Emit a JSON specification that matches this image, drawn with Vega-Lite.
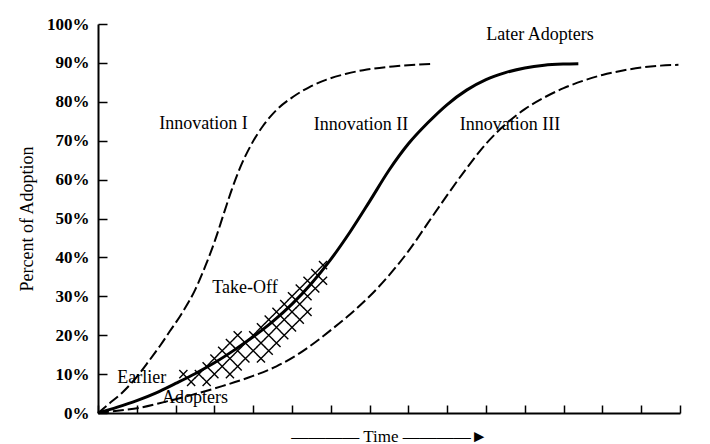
{
  "$schema": "https://vega.github.io/schema/vega-lite/v6.json",
  "width": 582,
  "height": 389,
  "autosize": "none",
  "padding": {"left": 98, "top": 24, "right": 30, "bottom": 31},
  "background": "white",
  "config": {
    "view": {"stroke": null},
    "font": "Liberation Serif",
    "axis": {"grid": false, "domainColor": "black", "domainWidth": 2, "tickColor": "black", "tickWidth": 1.5, "labelColor": "black", "titleColor": "black", "labelFont": "Liberation Serif", "titleFont": "Liberation Serif"}
  },
  "datasets": {
    "curves": [
      {"series": "I", "t": 0, "pct": 0}, {"series": "I", "t": 0.3, "pct": 2.5}, {"series": "I", "t": 0.61, "pct": 5.1}, {"series": "I", "t": 1.0, "pct": 9.3}, {"series": "I", "t": 1.3, "pct": 13.2}, {"series": "I", "t": 1.6, "pct": 17.3}, {"series": "I", "t": 1.85, "pct": 21}, {"series": "I", "t": 2.16, "pct": 25.6}, {"series": "I", "t": 2.5, "pct": 31.6}, {"series": "I", "t": 2.76, "pct": 37.6}, {"series": "I", "t": 3.02, "pct": 44.5}, {"series": "I", "t": 3.25, "pct": 51.5}, {"series": "I", "t": 3.45, "pct": 57.5}, {"series": "I", "t": 3.66, "pct": 63}, {"series": "I", "t": 3.95, "pct": 69}, {"series": "I", "t": 4.26, "pct": 73.9}, {"series": "I", "t": 4.6, "pct": 77.9}, {"series": "I", "t": 5.03, "pct": 81.3}, {"series": "I", "t": 5.45, "pct": 83.8}, {"series": "I", "t": 5.89, "pct": 85.7}, {"series": "I", "t": 6.4, "pct": 87.2}, {"series": "I", "t": 6.93, "pct": 88.3}, {"series": "I", "t": 7.6, "pct": 89.1}, {"series": "I", "t": 8.56, "pct": 89.7},
      {"series": "II", "t": 0, "pct": 0}, {"series": "II", "t": 0.5, "pct": 1.5}, {"series": "II", "t": 1.0, "pct": 3.2}, {"series": "II", "t": 1.5, "pct": 5.2}, {"series": "II", "t": 2.0, "pct": 7.6}, {"series": "II", "t": 2.5, "pct": 10.1}, {"series": "II", "t": 3.0, "pct": 12.9}, {"series": "II", "t": 3.5, "pct": 16.1}, {"series": "II", "t": 4.0, "pct": 19.6}, {"series": "II", "t": 4.5, "pct": 23.5}, {"series": "II", "t": 5.0, "pct": 28.0}, {"series": "II", "t": 5.5, "pct": 33.3}, {"series": "II", "t": 6.0, "pct": 39.5}, {"series": "II", "t": 6.5, "pct": 46.6}, {"series": "II", "t": 7.0, "pct": 54.4}, {"series": "II", "t": 7.5, "pct": 62.4}, {"series": "II", "t": 8.0, "pct": 69.2}, {"series": "II", "t": 8.5, "pct": 74.6}, {"series": "II", "t": 9.0, "pct": 79.3}, {"series": "II", "t": 9.5, "pct": 83}, {"series": "II", "t": 10.0, "pct": 85.7}, {"series": "II", "t": 10.5, "pct": 87.5}, {"series": "II", "t": 11.0, "pct": 88.7}, {"series": "II", "t": 11.5, "pct": 89.4}, {"series": "II", "t": 12.0, "pct": 89.7}, {"series": "II", "t": 12.38, "pct": 89.8},
      {"series": "III", "t": 0, "pct": 0}, {"series": "III", "t": 0.5, "pct": 0.6}, {"series": "III", "t": 1.1, "pct": 1.4}, {"series": "III", "t": 1.7, "pct": 2.8}, {"series": "III", "t": 2.4, "pct": 4.6}, {"series": "III", "t": 3.2, "pct": 6.9}, {"series": "III", "t": 3.9, "pct": 9.2}, {"series": "III", "t": 4.6, "pct": 12}, {"series": "III", "t": 5.2, "pct": 15.4}, {"series": "III", "t": 5.6, "pct": 18.2}, {"series": "III", "t": 6.0, "pct": 21.3}, {"series": "III", "t": 6.5, "pct": 25.4}, {"series": "III", "t": 7.0, "pct": 30.0}, {"series": "III", "t": 7.5, "pct": 35.4}, {"series": "III", "t": 8.0, "pct": 41.6}, {"series": "III", "t": 8.5, "pct": 48.8}, {"series": "III", "t": 9.0, "pct": 56.0}, {"series": "III", "t": 9.5, "pct": 62.9}, {"series": "III", "t": 10.0, "pct": 69.2}, {"series": "III", "t": 10.5, "pct": 74.2}, {"series": "III", "t": 11.0, "pct": 78.1}, {"series": "III", "t": 11.5, "pct": 81.1}, {"series": "III", "t": 12.0, "pct": 83.5}, {"series": "III", "t": 12.5, "pct": 85.4}, {"series": "III", "t": 13.0, "pct": 86.9}, {"series": "III", "t": 13.5, "pct": 88.0}, {"series": "III", "t": 14.0, "pct": 88.8}, {"series": "III", "t": 14.5, "pct": 89.3}, {"series": "III", "t": 14.96, "pct": 89.5}
    ],
    "hatch": [
      {"t": 2.2, "pct": 10}, {"t": 2.4, "pct": 8}, {"t": 2.6, "pct": 10}, {"t": 2.8, "pct": 8}, {"t": 2.8, "pct": 12},
      {"t": 3.0, "pct": 10}, {"t": 3.0, "pct": 14}, {"t": 3.2, "pct": 12}, {"t": 3.2, "pct": 16},
      {"t": 3.4, "pct": 10}, {"t": 3.4, "pct": 14}, {"t": 3.4, "pct": 18}, {"t": 3.6, "pct": 12}, {"t": 3.6, "pct": 16}, {"t": 3.6, "pct": 20},
      {"t": 3.8, "pct": 14}, {"t": 3.8, "pct": 18}, {"t": 4.0, "pct": 16}, {"t": 4.0, "pct": 20},
      {"t": 4.2, "pct": 14}, {"t": 4.2, "pct": 18}, {"t": 4.2, "pct": 22}, {"t": 4.4, "pct": 16}, {"t": 4.4, "pct": 20}, {"t": 4.4, "pct": 24},
      {"t": 4.6, "pct": 18}, {"t": 4.6, "pct": 22}, {"t": 4.6, "pct": 26}, {"t": 4.8, "pct": 20}, {"t": 4.8, "pct": 24}, {"t": 4.8, "pct": 28},
      {"t": 5.0, "pct": 22}, {"t": 5.0, "pct": 26}, {"t": 5.0, "pct": 30}, {"t": 5.2, "pct": 24}, {"t": 5.2, "pct": 28}, {"t": 5.2, "pct": 32},
      {"t": 5.4, "pct": 26}, {"t": 5.4, "pct": 30}, {"t": 5.4, "pct": 34}, {"t": 5.6, "pct": 32}, {"t": 5.6, "pct": 36},
      {"t": 5.8, "pct": 34}, {"t": 5.8, "pct": 38}
    ],
    "labels": [
      {"label": "Innovation I", "t": 2.72, "pct": 74.3},
      {"label": "Innovation II", "t": 6.78, "pct": 74},
      {"label": "Innovation III", "t": 10.62, "pct": 74},
      {"label": "Later Adopters", "t": 11.39, "pct": 97.2},
      {"label": "Take-Off", "t": 3.79, "pct": 32.1},
      {"label": "Earlier", "t": 1.13, "pct": 9.0},
      {"label": "Adopters", "t": 2.5, "pct": 3.9}
    ]
  },
  "encoding": {
    "x": {"field": "t", "type": "quantitative", "scale": {"domain": [0, 15], "nice": false, "zero": false},
      "axis": {"values": [0,1,2,3,4,5,6,7,8,9,10,11,12,13,14,15], "labels": false, "tickSize": -8, "title": "————  Time  ————►", "titleFontSize": 17, "titleFontWeight": "normal", "titleY": 23, "titleBaseline": "middle"}},
    "y": {"field": "pct", "type": "quantitative", "scale": {"domain": [0, 100], "nice": false, "zero": true},
      "axis": {"values": [0,10,20,30,40,50,60,70,80,90,100], "labelExpr": "datum.value + '%'", "tickSize": -9, "labelPadding": 18, "labelFontSize": 17, "labelFontWeight": "bold", "title": "Percent of Adoption", "titleFontSize": 18, "titleFontWeight": "normal", "titleX": -71, "titleBaseline": "middle"}}
  },
  "layer": [
    {
      "data": {"name": "hatch"},
      "mark": {"type": "point", "shape": "M-1,-1L1,1M-1,1L1,-1", "size": 66, "filled": false, "stroke": "black", "strokeWidth": 1.4, "opacity": 1}
    },
    {
      "data": {"name": "curves"},
      "transform": [{"filter": "datum.series === 'I'"}],
      "mark": {"type": "line", "interpolate": "monotone", "color": "black", "strokeWidth": 2, "strokeDash": [11, 4], "strokeCap": "butt"}
    },
    {
      "data": {"name": "curves"},
      "transform": [{"filter": "datum.series === 'II'"}],
      "mark": {"type": "line", "interpolate": "monotone", "color": "black", "strokeWidth": 3}
    },
    {
      "data": {"name": "curves"},
      "transform": [{"filter": "datum.series === 'III'"}],
      "mark": {"type": "line", "interpolate": "monotone", "color": "black", "strokeWidth": 2, "strokeDash": [11, 4], "strokeCap": "butt"}
    },
    {
      "data": {"name": "labels"},
      "mark": {"type": "text", "font": "Liberation Serif", "fontSize": 18, "color": "black", "align": "center", "baseline": "middle"},
      "encoding": {"text": {"field": "label"}}
    }
  ]
}
